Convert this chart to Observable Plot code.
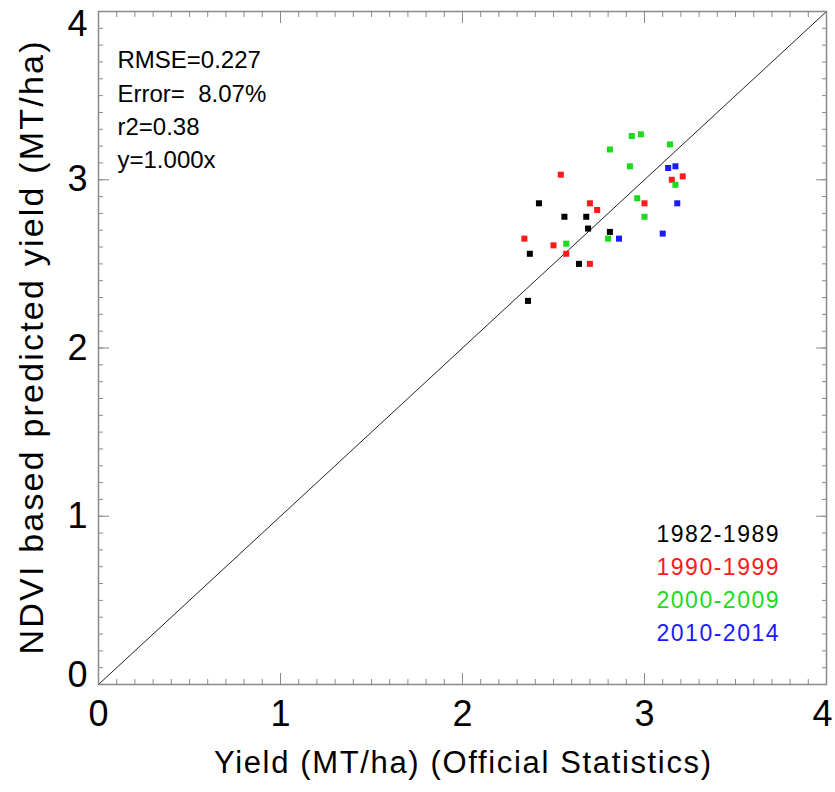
<!DOCTYPE html>
<html>
<head>
<meta charset="utf-8">
<script src="https://cdn.jsdelivr.net/npm/d3@7"></script>
<script src="https://cdn.jsdelivr.net/npm/@observablehq/plot@0.6"></script>
<style>
  html, body { margin: 0; padding: 0; background: #fff; }
  #chart { width: 835px; height: 792px; }
  svg { font-family: "Liberation Sans", Arial, sans-serif; }
</style>
</head>
<body>
<div id="chart"></div>
<script>
// ---- data ----
const periods = ["1982-1989", "1990-1999", "2000-2009", "2010-2014"];
const periodColors = ["#000000", "#ff1a1a", "#1adc1a", "#1a1aff"];

// official yield (x) and NDVI predicted yield (y), MT/ha
const obs1980s  = [2.42, 2.56, 2.68, 2.69, 2.81, 2.37, 2.64, 2.36];
const pred1980s = [2.86, 2.78, 2.78, 2.71, 2.69, 2.56, 2.50, 2.28];
const obs1990s  = [2.54, 2.70, 2.74, 3.00, 3.21, 3.15, 2.34, 2.50, 2.57, 2.70];
const pred1990s = [3.03, 2.86, 2.82, 2.86, 3.02, 3.00, 2.65, 2.61, 2.56, 2.50];
const obs2000s  = [2.93, 2.98, 3.14, 2.81, 2.92, 3.17, 2.96, 3.00, 2.57, 2.80];
const pred2000s = [3.26, 3.27, 3.21, 3.18, 3.08, 2.97, 2.89, 2.78, 2.62, 2.65];
const obs2010s  = [3.13, 3.17, 3.18, 3.10, 2.86];
const pred2010s = [3.07, 3.08, 2.86, 2.68, 2.65];

const statsLines = ["RMSE=0.227", "Error=  8.07%", "r2=0.38", "y=1.000x"];
const slope = 1.000;
const fitX = [0, 4];

const majorTicks = [0, 1, 2, 3, 4];
const innerMajorTicks = [1, 2, 3];
const minorTicks = d3.range(0, 41).map(i => i / 10);

const xTitle = "Yield (MT/ha) (Official Statistics)";
const yTitle = "NDVI based predicted yield (MT/ha)";

// ---- build table ----
const groups = [[obs1980s, pred1980s], [obs1990s, pred1990s], [obs2000s, pred2000s], [obs2010s, pred2010s]];
const points = groups.flatMap(([xs, ys], gi) => xs.map((x, i) => ({x, y: ys[i], period: periods[gi]})));
const fitLine = fitX.map(x => ({x, y: slope * x}));

const frameColor = "#8a8a8a";
const font = "Liberation Sans";
const tickFont = 36;

const legendMarks = periods.map((p, i) =>
  Plot.text([p], {
    frameAnchor: "bottom-right", text: d => d, dx: -48, dy: -143 + i * 33.3,
    textAnchor: "end", fill: periodColors[i], fontSize: 23, fontFamily: font
  })
);

const chart = Plot.plot({
  width: 835,
  height: 792,
  marginLeft: 98,
  marginRight: 9,
  marginTop: 11,
  marginBottom: 108,
  x: {domain: [0, 4]},
  y: {domain: [0, 4]},
  color: {domain: periods, range: periodColors},
  marks: [
    // minor ticks (inward) on all four sides
    Plot.axisX({anchor: "bottom", ticks: minorTicks, tickSize: 5, dy: -5, fill: "none", stroke: frameColor, label: null}),
    Plot.axisX({anchor: "top", ticks: minorTicks, tickSize: 5, dy: 5, fill: "none", stroke: frameColor, label: null}),
    Plot.axisY({anchor: "left", ticks: minorTicks, tickSize: 5, dx: 5, fill: "none", stroke: frameColor, label: null}),
    Plot.axisY({anchor: "right", ticks: minorTicks, tickSize: 5, dx: -5, fill: "none", stroke: frameColor, label: null}),
    // major ticks
    Plot.axisX({anchor: "bottom", ticks: majorTicks, tickSize: 11, dy: -11, fill: "none", stroke: frameColor, label: null}),
    Plot.axisX({anchor: "top", ticks: majorTicks, tickSize: 11, dy: 11, fill: "none", stroke: frameColor, label: null}),
    Plot.axisY({anchor: "left", ticks: majorTicks, tickSize: 11, dx: 11, fill: "none", stroke: frameColor, label: null}),
    Plot.axisY({anchor: "right", ticks: majorTicks, tickSize: 11, dx: -11, fill: "none", stroke: frameColor, label: null}),
    // tick labels
    Plot.text(majorTicks.slice(0, 4), {x: d => d, frameAnchor: "bottom", dy: 41, text: d => String(d), fontSize: tickFont, fontFamily: font, fill: "#000"}),
    Plot.text([majorTicks[4]], {x: d => d, frameAnchor: "bottom", dx: -4, dy: 41, text: d => String(d), fontSize: tickFont, fontFamily: font, fill: "#000"}),
    Plot.text(innerMajorTicks, {y: d => d, frameAnchor: "left", dx: -11, textAnchor: "end", text: d => String(d), fontSize: tickFont, fontFamily: font, fill: "#000"}),
    Plot.text([majorTicks[4]], {y: d => d, frameAnchor: "left", dx: -11, dy: 13, textAnchor: "end", text: d => String(d), fontSize: tickFont, fontFamily: font, fill: "#000"}),
    Plot.text([majorTicks[0]], {y: d => d, frameAnchor: "left", dx: -11, dy: -9, textAnchor: "end", text: d => String(d), fontSize: tickFont, fontFamily: font, fill: "#000"}),
    // axis titles
    Plot.text([xTitle], {frameAnchor: "bottom", dy: 88, text: d => d, fontSize: 31, fontFamily: font, fill: "#000"}),
    Plot.text([yTitle], {frameAnchor: "left", dx: -66, rotate: -90, textAnchor: "middle", text: d => d, fontSize: 34, fontFamily: font, fill: "#000"}),
    // 1:1 fit line
    Plot.line(fitLine, {x: "x", y: "y", stroke: "#222", strokeWidth: 1}),
    // points
    Plot.dot(points, {x: "x", y: "y", fill: "period", symbol: "square", r: 3.4, stroke: "none"}),
    // stats annotation
    Plot.text([statsLines.join("\n")], {frameAnchor: "top-left", dx: 19, dy: 33, lineAnchor: "top", lineHeight: 1.39, textAnchor: "start", text: d => d, fontSize: 24, fontFamily: font, fill: "#000"}),
    ...legendMarks,
    Plot.frame({stroke: frameColor, strokeWidth: 1.5})
  ]
});

// stretch spacing of a few texts to the reference's wide letter spacing
const textLengths = new Map([
  [xTitle, 497],
  [yTitle, 613],
  ...periods.map(p => [p, 122])
]);
d3.select(chart).selectAll("text").each(function () {
  const len = textLengths.get(this.textContent);
  if (len) {
    this.setAttribute("textLength", len);
    this.setAttribute("lengthAdjust", "spacing");
  }
});

document.getElementById("chart").appendChild(chart);
</script>
</body>
</html>
